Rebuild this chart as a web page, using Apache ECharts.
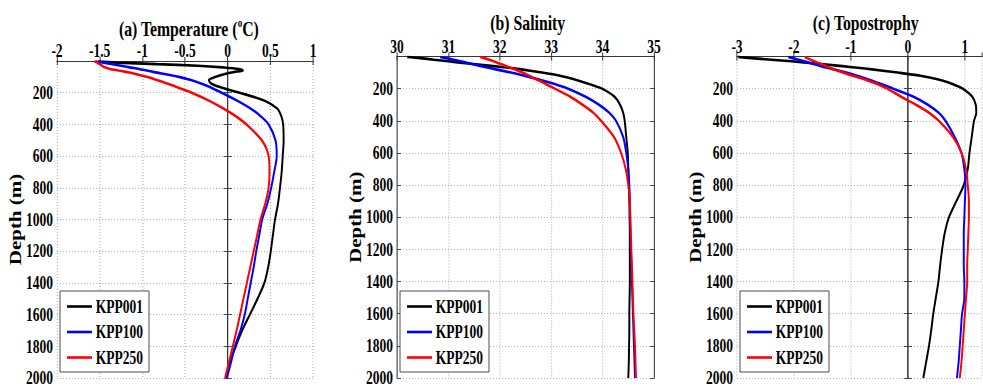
<!DOCTYPE html>
<html>
<head>
<meta charset="utf-8">
<title>KPP profiles</title>
<script src="https://cdn.jsdelivr.net/npm/echarts@6/dist/echarts.min.js"></script>
<style>
  html, body { margin: 0; padding: 0; background: #fff; overflow: hidden; }
  #wrap { width: 983px; height: 392px; overflow: hidden; position: relative; }
  #chart { position: absolute; left: 0; top: 0; height: 392px; transform-origin: 0 0; }
</style>
</head>
<body>
<div id="wrap"><div id="chart"></div></div>
<script>
// Depth levels (m) shared by every profile
const depths = [3, 10, 20, 30, 40, 50, 60, 70, 80, 100, 120, 140, 160, 180, 200, 250, 300, 350, 400,
  500, 600, 700, 800, 900, 1000, 1100, 1200, 1300, 1400, 1500, 1600, 1700, 1800, 1900, 2000];

// (a) Temperature, degC
const temp001 = [-1.52, -1.3, -0.83, -0.35, -0.06, 0.13, 0.18, 0.07, -0.02, -0.14, -0.22, -0.2, -0.12, 0.0, 0.14,
  0.43, 0.58, 0.63, 0.65, 0.656, 0.645, 0.633, 0.613, 0.59, 0.555, 0.53, 0.505, 0.475, 0.43, 0.35, 0.26, 0.17, 0.095, 0.025, -0.02];
const temp100 = [-1.55, -1.45, -1.35, -1.25, -1.15, -1.04, -0.95, -0.86, -0.76, -0.57, -0.43, -0.32, -0.23, -0.15, -0.07,
  0.11, 0.27, 0.39, 0.48, 0.56, 0.575, 0.545, 0.51, 0.465, 0.405, 0.37, 0.335, 0.305, 0.27, 0.235, 0.2, 0.15, 0.085, 0.04, -0.01];
const temp250 = [-1.56, -1.53, -1.5, -1.47, -1.44, -1.38, -1.28, -1.18, -1.09, -0.95, -0.83, -0.72, -0.62, -0.52, -0.42,
  -0.22, -0.05, 0.1, 0.22, 0.4, 0.48, 0.49, 0.48, 0.44, 0.385, 0.345, 0.305, 0.265, 0.225, 0.185, 0.145, 0.105, 0.06, 0.015, -0.03];

// (b) Salinity
const salt001 = [30.2, 30.45, 30.72, 31.0, 31.28, 31.58, 31.88, 32.18, 32.42, 32.82, 33.17, 33.43, 33.63, 33.82, 33.99,
  34.23, 34.34, 34.4, 34.43, 34.46, 34.49, 34.5, 34.51, 34.52, 34.525, 34.53, 34.53, 34.53, 34.53, 34.525, 34.52, 34.52, 34.515, 34.51, 34.5];
const salt100 = [30.84, 30.95, 31.1, 31.24, 31.38, 31.5, 31.64, 31.78, 31.92, 32.22, 32.48, 32.73, 32.95, 33.15, 33.33,
  33.67, 33.93, 34.13, 34.26, 34.4, 34.46, 34.5, 34.52, 34.53, 34.535, 34.54, 34.55, 34.56, 34.57, 34.58, 34.59, 34.6, 34.61, 34.62, 34.63];
const salt250 = [31.62, 31.7, 31.8, 31.88, 31.96, 32.05, 32.13, 32.21, 32.29, 32.44, 32.57, 32.7, 32.83, 32.95, 33.07,
  33.37, 33.61, 33.82, 33.97, 34.22, 34.36, 34.45, 34.5, 34.53, 34.54, 34.55, 34.56, 34.57, 34.58, 34.59, 34.6, 34.615, 34.63, 34.64, 34.65];

// (c) Topostrophy
const topo001 = [-2.98, -2.75, -2.4, -2.04, -1.72, -1.43, -1.15, -0.88, -0.63, -0.18, 0.22, 0.5, 0.7, 0.84, 0.96,
  1.13, 1.19, 1.2, 1.16, 1.12, 1.08, 1.05, 0.98, 0.85, 0.72, 0.645, 0.6, 0.565, 0.535, 0.49, 0.445, 0.41, 0.37, 0.32, 0.27];
const topo100 = [-2.1, -2.02, -1.92, -1.82, -1.72, -1.62, -1.53, -1.42, -1.3, -1.08, -0.89, -0.72, -0.56, -0.4, -0.26,
  0.1, 0.35, 0.54, 0.66, 0.82, 0.94, 0.99, 1.01, 1.0, 0.99, 0.98, 0.98, 0.98, 0.99, 0.99, 0.95, 0.93, 0.91, 0.89, 0.86];
const topo250 = [-1.81, -1.77, -1.71, -1.64, -1.57, -1.5, -1.44, -1.37, -1.3, -1.14, -0.97, -0.78, -0.62, -0.48, -0.36,
  -0.12, 0.14, 0.37, 0.54, 0.79, 0.94, 1.02, 1.05, 1.07, 1.07, 1.06, 1.05, 1.04, 1.04, 1.02, 1.0, 0.98, 0.96, 0.94, 0.91];

const runNames = ['KPP001', 'KPP100', 'KPP250'];
const runColors = ['#000000', '#0000ff', '#ff0000'];

// x-axis ranges [min, max, step]
const tempAxis = [-2, 1, 0.5];
const saltAxis = [30, 35, 1];
const topoAxis = [-3, 1.3, 1];
const depthAxis = [0, 2000, 200];

// The figure is drawn wide and squeezed horizontally (condensed lettering)
const SX = 0.75;
const FULL_W = 983;
const px = v => v / SX;

const FONT = "'Liberation Serif', 'Times New Roman', serif";

const panels = [
  { title: '(a) Temperature ({sup|o}C)', titleX: 185, titleY: 12, left: 57, width: 256, top: 61, height: 317,
    axis: tempAxis, runs: [temp001, temp100, temp250], legendLeft: 60, nameGap: 33 },
  { title: '(b) Salinity', titleX: 524, titleY: 6, left: 397, width: 257, top: 56.5, height: 321.5,
    axis: saltAxis, runs: [salt001, salt100, salt250], legendLeft: 400, nameGap: 29 },
  { title: '(c) Topostrophy', titleX: 862, titleY: 6, left: 737, width: 245, top: 56.5, height: 321.5,
    axis: topoAxis, runs: [topo001, topo100, topo250], legendLeft: 740, nameGap: 34 }
];

const chartEl = document.getElementById('chart');
chartEl.style.width = px(FULL_W) + 'px';
chartEl.style.transform = 'scaleX(' + SX + ')';

const chart = echarts.init(chartEl, null, { renderer: 'svg' });

const boxLine = { show: true, lineStyle: { color: '#333', width: 1 } };
const boxLineV = { show: true, lineStyle: { color: '#333', width: 1.33 } };
const labelFont = { fontFamily: FONT, fontWeight: 'bold', fontSize: 18, color: '#000' };

const grid = [], xAxis = [], yAxis = [], series = [], title = [], legend = [];

panels.forEach((p, i) => {
  grid.push({ left: px(p.left), top: p.top, width: px(p.width), height: p.height,
    containLabel: false, outerBoundsMode: 'none' });

  // top axis with labels
  xAxis.push({
    gridIndex: i, type: 'value', position: 'top', min: p.axis[0], max: p.axis[1], interval: p.axis[2],
    axisLine: boxLine, axisTick: { inside: true, length: 4, lineStyle: { color: '#333', width: 1.33 } },
    axisLabel: Object.assign({ margin: 1, showMaxLabel: p.axis[1] % p.axis[2] === 0 }, labelFont),
    splitLine: { show: true, lineStyle: { color: '#a8a8a8', type: [1, 2], width: 1.33 } }
  });
  // bottom edge of the box
  xAxis.push({
    gridIndex: i, type: 'value', position: 'bottom', min: p.axis[0], max: p.axis[1], interval: p.axis[2],
    axisLine: boxLine, axisTick: { inside: true, length: 4, lineStyle: { color: '#333', width: 1.33 } },
    axisLabel: { show: false }, splitLine: { show: false }
  });
  // depth axis
  yAxis.push({
    gridIndex: i, type: 'value', inverse: true, min: depthAxis[0], max: depthAxis[1], interval: depthAxis[2],
    name: 'Depth (m)', nameLocation: 'middle', nameRotate: 90, nameGap: px(p.nameGap),
    nameTextStyle: { fontFamily: FONT, fontWeight: 'bold', fontSize: 21, color: '#000' },
    axisLine: boxLineV, axisTick: { inside: true, length: px(4), lineStyle: { color: '#333' } },
    axisLabel: Object.assign({ margin: px(4), formatter: v => (v === 0 ? '' : String(v)) }, labelFont),
    splitLine: { show: true, lineStyle: { color: '#a8a8a8', type: [1.33, 2.67], width: 1 } }
  });
  // right edge of the box
  yAxis.push({
    gridIndex: i, type: 'value', position: 'right', inverse: true, min: depthAxis[0], max: depthAxis[1], interval: depthAxis[2],
    axisLine: boxLineV, axisTick: { inside: true, length: px(4), lineStyle: { color: '#333' } },
    axisLabel: { show: false }, splitLine: { show: false }
  });

  p.runs.forEach((vals, k) => {
    series.push({
      name: runNames[k], type: 'line', xAxisIndex: 2 * i, yAxisIndex: 2 * i,
      data: vals.map((v, j) => [v, depths[j]]),
      symbol: 'none', smooth: 0.3, z: 3 + k,
      lineStyle: { color: runColors[k], width: 2.6 }, itemStyle: { color: runColors[k] },
      emphasis: { disabled: true }, silent: true
    });
  });

  title.push({
    text: p.title, left: px(p.titleX), top: p.titleY, textAlign: 'center',
    textStyle: { fontFamily: FONT, fontWeight: 'bold', fontSize: 21, color: '#000', lineHeight: 23,
      rich: { sup: { fontFamily: FONT, fontWeight: 'bold', fontSize: 12, verticalAlign: 'top', lineHeight: 23, padding: [0, 0, 10, 0] } } }
  });

  legend.push({
    data: runNames.map(n => ({ name: n, icon: 'rect' })), orient: 'vertical', left: px(p.legendLeft), top: 291,
    itemWidth: px(25), itemHeight: 2.6, itemGap: 7.5,
    padding: [6.5, px(6), 5.5, px(7)],
    borderColor: '#333', borderWidth: 1, backgroundColor: '#fff', selectedMode: false,
    textStyle: { fontFamily: FONT, fontWeight: 'bold', fontSize: 18, color: '#000' }
  });
});

chart.setOption({
  animation: false,
  backgroundColor: '#fff',
  title, legend, grid, xAxis, yAxis, series
});
</script>
</body>
</html>
